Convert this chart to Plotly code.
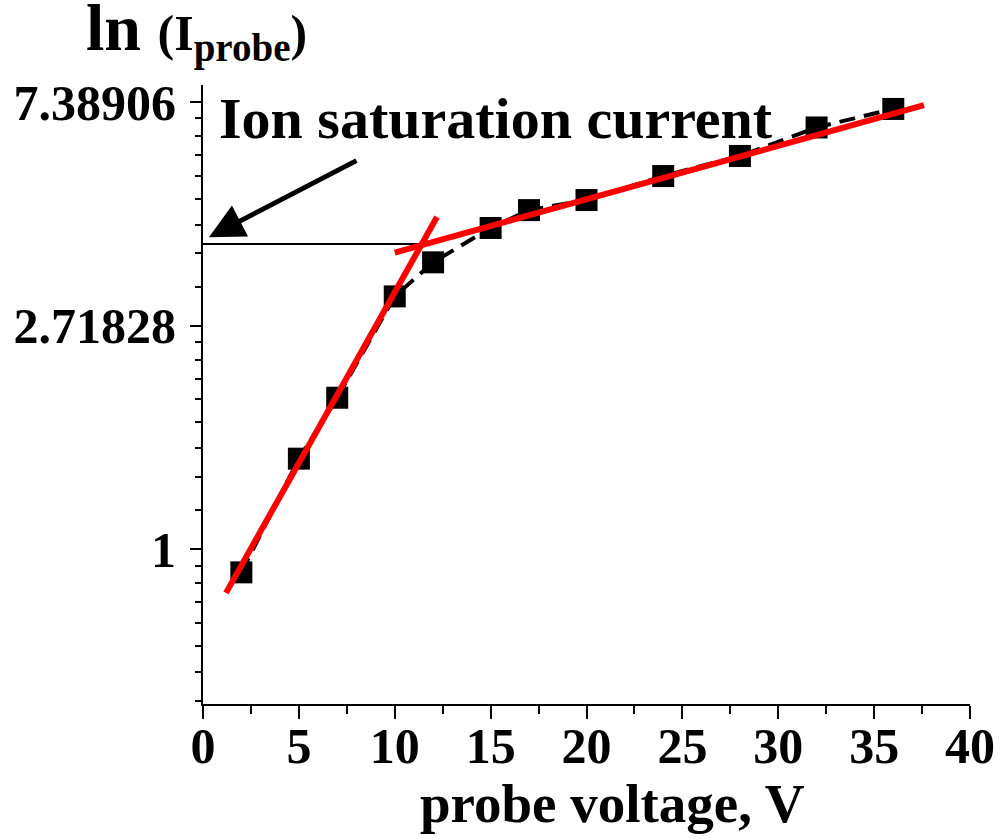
import math
import plotly.graph_objects as go

# ---- data ----
voltage = [2, 5, 7, 10, 12, 15, 17, 20, 24, 28, 32, 36]
current = [0.902, 1.50, 1.97, 3.10, 3.61, 4.21, 4.56, 4.77, 5.31, 5.81, 6.60, 7.17]

fit1_x = [1.2, 12.2]
fit1_y = [0.823, 4.42]
fit2_x = [10.0, 37.6]
fit2_y = [3.77, 7.29]

sat_x = [0, 11.4]
sat_y = [3.92, 3.92]

ytick_vals = [1, math.e, math.e ** 2]
ytick_text = ["1", "2.71828", "7.38906"]

arrow_tip = (0.31, 4.04)
arrow_tail = (8.08, 5.71)

E = math.e
minor_vals = [1 - k * (1 - 1 / E) / 9 for k in range(1, 8)]
minor_vals += [1 + k * (E - 1) / 9 for k in range(1, 9)]
minor_vals += [E + k * (E ** 2 - E) / 9 for k in range(1, 9)]

FONT = "Liberation Serif"

fig = go.Figure()
fig.add_trace(go.Scatter(x=sat_x, y=sat_y, mode="lines",
                         line=dict(color="black", width=2), hoverinfo="skip"))
fig.add_trace(go.Scatter(x=voltage, y=current, mode="lines+markers",
                         line=dict(color="black", width=4, dash="16px,9px"),
                         marker=dict(symbol="square", size=22, color="black")))
fig.add_trace(go.Scatter(x=fit1_x, y=fit1_y, mode="lines",
                         line=dict(color="#ff0000", width=6)))
fig.add_trace(go.Scatter(x=fit2_x, y=fit2_y, mode="lines",
                         line=dict(color="#ff0000", width=6)))

fig.update_layout(
    width=1002, height=839,
    margin=dict(l=203, r=32, t=85, b=135),
    paper_bgcolor="white", plot_bgcolor="white",
    showlegend=False,
    font=dict(family=FONT, color="black"),
)

fig.update_xaxes(
    range=[0, 40], tickmode="linear", tick0=0, dtick=5, automargin=False,
    showgrid=False, zeroline=False, showline=True, linecolor="black", linewidth=2,
    ticks="outside", ticklen=13, tickwidth=2, tickcolor="black",
    tickfont=dict(family=FONT, size=50, weight="bold", color="black"),
    ticklabelstandoff=-16,
    minor=dict(dtick=2.5, tick0=0, ticks="outside", ticklen=8, tickwidth=2, tickcolor="black"),
)

fig.update_yaxes(
    type="log", automargin=False,
    range=[-0.692 / math.log(10), 2.077 / math.log(10)],
    tickmode="array", tickvals=ytick_vals, ticktext=ytick_text,
    showgrid=False, zeroline=False, showline=True, linecolor="black", linewidth=2,
    ticks="outside", ticklen=11, tickwidth=2, tickcolor="black",
    tickfont=dict(family=FONT, size=50, weight="bold", color="black"),
    ticklabelstandoff=4,
    minor=dict(tickmode="array", tickvals=minor_vals, ticks="outside",
               ticklen=6, tickwidth=2, tickcolor="black"),
)

# arrow pointing at the saturation level
fig.add_annotation(
    x=arrow_tip[0], y=math.log10(arrow_tip[1]),
    ax=arrow_tail[0], ay=math.log10(arrow_tail[1]),
    xref="x", yref="y", axref="x", ayref="y",
    text="", showarrow=True, arrowhead=2, arrowsize=1.4, arrowwidth=5,
    arrowcolor="black", standoff=0, startstandoff=0,
)

fig.add_annotation(
    x=(217 - 203) / 767, y=(704 - 119) / 619, xref="paper", yref="paper",
    xanchor="left", yanchor="middle", showarrow=False,
    text="Ion saturation current",
    font=dict(family=FONT, size=58, weight="bold", color="black"),
)

# x-axis title
fig.add_annotation(
    x=(612 - 203) / 767, y=(704 - 803) / 619, xref="paper", yref="paper",
    xanchor="center", yanchor="middle", showarrow=False,
    text="probe voltage, V",
    font=dict(family=FONT, size=55, weight="bold", color="black"),
)

# y-axis title
fig.add_annotation(
    x=(84 - 203) / 767, y=(704 - 72) / 619, xref="paper", yref="paper",
    xanchor="left", yanchor="bottom", showarrow=False,
    text="<b>ln <span style='font-size:50px'>(I<sub><span style='font-size:39px'>probe</span></sub>)</span></b>",
    font=dict(family=FONT, size=66, color="black"),
)

fig.write_html("out.html")
